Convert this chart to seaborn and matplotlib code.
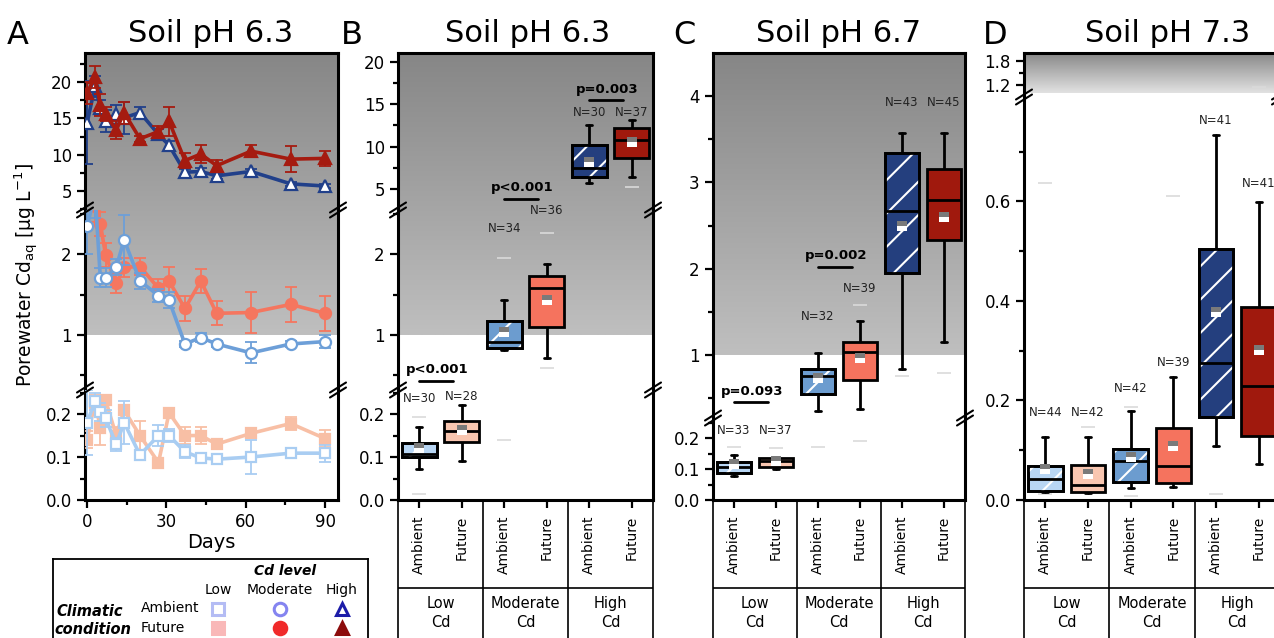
"""Porewater Cd: time series at pH 6.3 (A) and box summaries by soil pH (B-D)."""

import matplotlib

matplotlib.use("Agg")

import matplotlib.pyplot as plt
import numpy as np
import seaborn as sns
from matplotlib.colors import LinearSegmentedColormap
from matplotlib.lines import Line2D
from matplotlib.patches import PathPatch
from matplotlib.ticker import FixedLocator, FormatStrFormatter

W, H = 1274, 638
NAN = np.nan

# ---------------- panel A data (mean +- se) ----------------
days = [0, 3, 5, 7, 11, 14, 20, 27, 31, 37, 43, 49, 62, 77, 90]

high_ambient = [14.4, 19.4, 16.5, 14.6, 15.6, 15.1, 15.8, 12.8, 11.3, 7.6, 7.7, 7.1, 7.7, 6.0, 5.7]
high_ambient_se = [5.7, 1.5, 1.0, 1.5, 1.3, 2.2, 0.8, 0.7, 0.6, 0.5, 0.5, 0.4, 0.4, 0.3, 0.3]
high_future = [18.5, 20.7, 16.8, 15.6, 13.4, 15.8, 12.2, 13.2, 14.6, 9.2, 10.1, 8.5, 10.5, 9.4, 9.5]
high_future_se = [1.5, 1.5, 1.5, 1.0, 1.2, 1.5, 0.4, 0.8, 2.0, 1.0, 1.3, 0.8, 0.8, 1.8, 1.0]

mod_ambient = [2.35, 2.75, 1.71, 1.71, 1.84, 2.18, 1.67, 1.49, 1.43, 0.89, 0.97, 0.89, 0.78, 0.89, 0.92]
mod_ambient_se = [0.35, 0.3, 0.12, 0.12, 0.1, 0.31, 0.1, 0.08, 0.1, 0.04, 0.06, 0.04, 0.13, 0.04, 0.08]
mod_future = [2.9, 2.6, 2.38, 1.99, 1.64, 1.84, 1.85, 1.58, 1.67, 1.33, 1.67, 1.27, 1.28, 1.38, 1.27]
mod_future_se = [0.2, 0.2, 0.15, 0.15, 0.12, 0.12, 0.1, 0.12, 0.18, 0.15, 0.15, 0.15, 0.26, 0.22, 0.22]

low_ambient = [0.18, 0.23, 0.205, 0.19, 0.13, 0.18, 0.105, 0.15, 0.15, 0.112, 0.098, 0.095, 0.1, 0.109, 0.109]
low_ambient_se = [0.075, 0.02, 0.02, 0.02, 0.015, 0.05, 0.01, 0.025, 0.015, 0.015, 0.005, 0.005, 0.04, 0.008, 0.02]
low_future = [0.14, 0.229, 0.167, 0.232, 0.15, 0.209, 0.15, 0.087, 0.203, 0.15, 0.15, 0.13, 0.155, 0.178, 0.143]
low_future_se = [0.02, 0.015, 0.04, 0.01, 0.02, 0.01, 0.035, 0.0, 0.005, 0.02, 0.02, 0.01, 0.01, 0.015, 0.02]

# ---------------- panels B-D data (box summaries) ----------------
categories = ["Ambient", "Future"] * 3
cd_groups = ["Low\nCd", "Moderate\nCd", "High\nCd"]

B_whislo = [0.072, 0.09, 0.81, 0.72, 5.7, 6.4]
B_q1 = [0.10, 0.135, 0.84, 1.10, 6.4, 8.7]
B_med = [0.107, 0.16, 0.91, 1.58, 7.5, 10.8]
B_q3 = [0.133, 0.184, 1.17, 1.73, 10.2, 12.2]
B_whishi = [0.17, 0.22, 1.43, 1.88, 12.6, 13.1]
B_mean = [0.12, 0.163, 1.04, 1.43, 8.2, 10.5]
B_min = [0.014, NAN, 0.14, 0.59, NAN, 5.2]
B_max = [0.194, NAN, 1.96, 2.27, NAN, NAN]
B_n = [30, 28, 34, 36, 30, 37]
B_p = ["p<0.001", "p<0.001", "p=0.003"]

C_whislo = [0.077, 0.10, 0.35, 0.38, 0.84, 1.15]
C_q1 = [0.087, 0.106, 0.55, 0.71, 1.95, 2.33]
C_med = [0.106, 0.126, 0.76, 1.03, 2.67, 2.8]
C_q3 = [0.122, 0.135, 0.84, 1.15, 3.34, 3.16]
C_whishi = [0.145, 0.14, 1.02, 1.39, 3.57, 3.57]
C_mean = [0.116, 0.125, 0.73, 0.97, 2.5, 2.6]
C_min = [NAN, NAN, 0.17, 0.19, 0.76, 0.79]
C_max = [0.17, 0.168, NAN, 1.58, NAN, NAN]
C_n = [33, 37, 32, 39, 43, 45]
C_p = ["p=0.093", "p=0.002"]

D_whislo = [0.016, 0.014, 0.024, 0.026, 0.108, 0.072]
D_q1 = [0.018, 0.016, 0.036, 0.034, 0.166, 0.128]
D_med = [0.042, 0.03, 0.078, 0.068, 0.276, 0.23]
D_q3 = [0.068, 0.07, 0.102, 0.144, 0.504, 0.388]
D_whishi = [0.126, 0.126, 0.178, 0.248, 0.734, 0.598]
D_mean = [0.062, 0.052, 0.086, 0.108, 0.378, 0.302]
D_min = [0.012, NAN, 0.008, NAN, 0.012, NAN]
D_max = [0.638, 0.146, 0.186, 0.612, NAN, 1.15]
D_n = [44, 42, 42, 39, 41, 41]

box_colors = ["#b8d6f4", "#f9c6b0", "#6c9ccf", "#f5735e", "#243f7e", "#a0190d"]

sns.set_theme(
    style="ticks",
    rc={
        "axes.edgecolor": "black",
        "xtick.color": "black",
        "ytick.color": "black",
        "text.color": "black",
        "axes.labelcolor": "black",
        "hatch.linewidth": 1.5,
        "mathtext.default": "regular",
    },
)
plt.rcParams["font.family"] = ["DejaVu Sans"]

fig = plt.figure(figsize=(W / 100, H / 100), dpi=100)


def add_ax(x0, x1, top, bottom):
    return fig.add_axes([x0 / W, 1 - bottom / H, (x1 - x0) / W, (bottom - top) / H])


def ftext(px, py, s, **kw):
    fig.text(px / W, 1 - py / H, s, **kw)


def fline(xs, ys, **kw):
    fig.add_artist(Line2D([x / W for x in xs], [1 - y / H for y in ys],
                          transform=fig.transFigure, **kw))


def build_panel(x0, x1, segs, xlim, shade):
    """Stack broken-axis segments; segs rows: (lo, hi, top_px, bottom_px, major, minor, fmt)."""
    axes = []
    y_one = None
    n = len(segs)
    for i, (lo, hi, top, bottom, major, minor, fmt) in enumerate(segs):
        ax = add_ax(x0, x1, top, bottom)
        ax.set_zorder(2)
        ax.patch.set_alpha(0)
        ax.set_xlim(*xlim)
        ax.set_ylim(lo, hi)
        ax.yaxis.set_major_locator(FixedLocator(major))
        ax.yaxis.set_minor_locator(FixedLocator(minor))
        ax.yaxis.set_major_formatter(FormatStrFormatter(fmt))
        for side in ("left", "right", "top", "bottom"):
            ax.spines[side].set_linewidth(2.2)
        ax.spines["top"].set_visible(i == 0)
        ax.spines["bottom"].set_visible(i == n - 1)
        ax.tick_params(which="major", length=6, width=1.6, labelsize=12, direction="out")
        ax.tick_params(which="minor", length=3.5, width=1.6, direction="out")
        if i < n - 1:
            ax.tick_params(axis="x", which="both", bottom=False, labelbottom=False)
        if lo < 1 < hi:
            y_one = top + (hi - 1) / (hi - lo) * (bottom - top)
        axes.append(ax)

    bg = add_ax(x0, x1, segs[0][2], y_one)
    bg.set_zorder(1)
    cmap = LinearSegmentedColormap.from_list("shade", shade)
    bg.imshow(np.linspace(0, 1, 256).reshape(-1, 1), cmap=cmap, aspect="auto",
              extent=(0, 1, 0, 1), origin="upper")
    bg.axis("off")

    for seg in segs[:-1]:
        y = seg[3]
        for x in (x0, x1):
            for dy in (-2.5, 2.5):
                fline([x - 8, x + 8], [y + dy + 5, y + dy - 5], color="black", lw=1.5, zorder=10)
    return axes


def draw_series(ax, y, err, color, marker, face, ms, z):
    ax.errorbar(days, y, yerr=err, fmt="none", ecolor=color, elinewidth=1.3,
                capsize=4, capthick=1.3, zorder=z)
    sns.lineplot(x=days, y=y, ax=ax, color=color, lw=2.6, marker=marker, markersize=ms,
                 markerfacecolor=face, markeredgecolor=color, markeredgewidth=1.6,
                 estimator=None, sort=False, zorder=z + 0.5)


def draw_boxes(axes, whislo, q1, med, q3, whishi, mean, vmin, vmax):
    pos = list(range(6))
    stats = [dict(whislo=whislo[i], q1=q1[i], med=med[i], q3=q3[i], whishi=whishi[i], fliers=[])
             for i in pos]
    for ax in axes:
        ax.plot(pos, vmin, ls="none", marker="_", ms=10, mec="#dadada", mew=1.2, zorder=1.5)
        ax.plot(pos, vmax, ls="none", marker="_", ms=10, mec="#dadada", mew=1.2, zorder=1.5)
        art = ax.bxp(stats, positions=pos, widths=0.82, patch_artist=True, showfliers=False,
                     capwidths=0.14, manage_ticks=False,
                     boxprops=dict(edgecolor="black", linewidth=2),
                     whiskerprops=dict(color="black", linewidth=2),
                     capprops=dict(color="black", linewidth=2),
                     medianprops=dict(color="black", linewidth=2))
        for i, patch in enumerate(art["boxes"]):
            patch.set_facecolor(box_colors[i])
            patch.set_zorder(3)
            if i % 2 == 0:
                ax.add_patch(PathPatch(patch.get_path(), transform=patch.get_transform(),
                                       facecolor="none", edgecolor="white", lw=0,
                                       hatch="/", zorder=3.1))
                ax.add_patch(PathPatch(patch.get_path(), transform=patch.get_transform(),
                                       facecolor="none", edgecolor="black", lw=2, zorder=3.2))
        for line in art["medians"]:
            line.set_zorder(3.3)
        ax.plot(pos, mean, ls="none", marker="s", ms=6.5, fillstyle="top",
                markerfacecolor="#7a7a7a", markerfacecoloralt="white", markeredgewidth=0,
                zorder=6)


def build_table(x0, x1):
    tb = add_ax(x0, x1, 500, 700)
    tb.patch.set_alpha(0)
    tb.set_xlim(-0.5, 5.5)
    tb.set_ylim(700, 500)
    tb.set_xticks([])
    tb.set_yticks([])
    tb.spines["top"].set_visible(False)
    tb.spines["bottom"].set_visible(False)
    for side in ("left", "right"):
        tb.spines[side].set_linewidth(1.2)
    for xb in (1.5, 3.5):
        tb.axvline(xb, color="black", lw=1.2)
    tb.axhline(588, color="black", lw=1.2)
    for g, label in enumerate(cd_groups):
        tb.text(2 * g + 0.5, 613, label, ha="center", va="center", fontsize=10.5, linespacing=1.35)


def category_axis(ax):
    ax.set_xticks(range(6))
    ax.set_xticklabels(categories, rotation=90, fontsize=10)
    ax.tick_params(axis="x", which="major", length=6, pad=5)


def annotate(x0, x1, n_vals, n_y, p_texts, p_pos):
    step = (x1 - x0) / 6
    for i, (n, y) in enumerate(zip(n_vals, n_y)):
        ftext(x0 + (i + 0.5) * step, y, f"N={n}", ha="center", va="center", fontsize=8.5,
              color="#222222")
    for text, (i, y) in zip(p_texts, p_pos):
        xa = x0 + (i + 0.5) * step
        fline([xa, xa + 0.8 * step], [y, y], color="black", lw=2, zorder=10)
        ftext(xa + 0.42 * step, y - 11, text, ha="center", va="center", fontsize=9.5,
              fontweight="bold")


gray_shade = ["#868686", "#bfbfbf"]

# ---------------- panel A ----------------
A_segs = [
    (2.4, 24.0, 53, 210, [5, 10, 15, 20], [2.5, 7.5, 12.5, 17.5, 22.5], "%g"),
    (0.32, 2.55, 210, 390, [1, 2], [0.5, 1.5, 2.5], "%g"),
    (0.0, 0.256, 390, 500, [0.0, 0.1, 0.2], [0.05, 0.15, 0.25], "%.1f"),
]
a_top, a_mid, a_bot = build_panel(85, 338, A_segs, (-0.8, 94.9), gray_shade)
draw_series(a_top, high_ambient, high_ambient_se, "#21408a", "^", "white", 9, 3)
draw_series(a_top, high_future, high_future_se, "#a51b10", "^", "#a51b10", 9, 4)
draw_series(a_mid, mod_future, mod_future_se, "#f5765f", "o", "#f5765f", 8, 3)
draw_series(a_mid, mod_ambient, mod_ambient_se, "#6d9fd8", "o", "white", 8, 4)
draw_series(a_bot, low_future, low_future_se, "#f8bfa5", "s", "#f8bfa5", 7.5, 3)
draw_series(a_bot, low_ambient, low_ambient_se, "#a9cdf2", "s", "white", 7.5, 4)
for ax in (a_top, a_mid, a_bot):
    ax.set_xlabel("")
    ax.set_ylabel("")
a_bot.xaxis.set_major_locator(FixedLocator([0, 30, 60, 90]))
a_bot.xaxis.set_minor_locator(FixedLocator([15, 45, 75]))
a_bot.tick_params(axis="x", which="major", labelsize=12)
ftext(211, 543, "Days", ha="center", va="center", fontsize=14)
ftext(27, 275, "Porewater Cd$_{aq}$ [µg L$^{-1}$]", ha="center", va="center",
      rotation=90, fontsize=13.5)

# ---------------- panel B ----------------
B_segs = [
    (2.5, 21.06, 53, 210, [5, 10, 15, 20], [7.5, 12.5, 17.5], "%g"),
    (0.32, 2.55, 210, 390, [1, 2], [0.5, 1.5, 2.5], "%g"),
    (0.0, 0.256, 390, 500, [0.0, 0.1, 0.2], [0.05, 0.15, 0.25], "%.1f"),
]
b_axes = build_panel(398, 653, B_segs, (-0.5, 5.5), gray_shade)
draw_boxes(b_axes, B_whislo, B_q1, B_med, B_q3, B_whishi, B_mean, B_min, B_max)
category_axis(b_axes[-1])
build_table(398, 653)
annotate(398, 653, B_n, [399, 396, 229, 211, 113, 113], B_p, [(0, 381), (2, 199), (4, 100)])

# ---------------- panel C ----------------
C_segs = [
    (0.27, 4.5, 53, 418, [1, 2, 3, 4], [0.5, 1.5, 2.5, 3.5], "%g"),
    (0.0, 0.265, 418, 500, [0.0, 0.1, 0.2], [0.05, 0.15, 0.25], "%.1f"),
]
c_axes = build_panel(713, 965, C_segs, (-0.5, 5.5), gray_shade)
draw_boxes(c_axes, C_whislo, C_q1, C_med, C_q3, C_whishi, C_mean, C_min, C_max)
category_axis(c_axes[-1])
build_table(713, 965)
annotate(713, 965, C_n, [430, 430, 317, 289, 102, 102], C_p, [(0, 402), (2, 267)])

# ---------------- panel D ----------------
D_segs = [
    (0.9, 2.0, 53, 97, [1.2, 1.8], [1.5], "%.1f"),
    (0.0, 0.81, 97, 500, [0.0, 0.2, 0.4, 0.6], [0.1, 0.3, 0.5, 0.7], "%.1f"),
]
d_axes = build_panel(1024, 1280, D_segs, (-0.5, 5.5), ["#888888", "#e2e2e2"])
draw_boxes(d_axes, D_whislo, D_q1, D_med, D_q3, D_whishi, D_mean, D_min, D_max)
category_axis(d_axes[-1])
build_table(1024, 1280)
annotate(1024, 1280, D_n, [412, 412, 389, 362, 120, 184], [], [])

# ---------------- titles and panel letters ----------------
for letter, lx, title, tx in [("A", 18, "Soil pH 6.3", 211), ("B", 352, "Soil pH 6.3", 528),
                              ("C", 684, "Soil pH 6.7", 839), ("D", 995, "Soil pH 7.3", 1168)]:
    ftext(lx, 36, letter, ha="center", va="center", fontsize=23)
    ftext(tx, 33, title, ha="center", va="center", fontsize=22)

# ---------------- legend box ----------------
lg = add_ax(53, 368, 559, 700)
lg.set_xlim(53, 368)
lg.set_ylim(700, 559)
lg.set_xticks([])
lg.set_yticks([])
for side in lg.spines.values():
    side.set_linewidth(1.3)
lg.text(285, 571, "Cd level", ha="center", va="center", fontsize=10, fontweight="bold",
        fontstyle="italic")
for lx, lab in [(218, "Low"), (280, "Moderate"), (342, "High")]:
    lg.text(lx, 590, lab, ha="center", va="center", fontsize=10)
lg.text(90, 611, "Climatic", ha="center", va="center", fontsize=10.5, fontweight="bold",
        fontstyle="italic")
lg.text(93, 629, "condition", ha="center", va="center", fontsize=10.5, fontweight="bold",
        fontstyle="italic")
lg.text(170, 608, "Ambient", ha="center", va="center", fontsize=10)
lg.text(163, 628, "Future", ha="center", va="center", fontsize=10)
legend_marks = [
    (218, 609, "s", "white", "#b4bcf4"), (280, 609, "o", "white", "#8484f0"),
    (342, 609, "^", "white", "#1c1ca8"), (218, 628, "s", "#f9b8b8", "#f9b8b8"),
    (280, 628, "o", "#f02a2a", "#f02a2a"), (342, 628, "^", "#8c0c0c", "#8c0c0c"),
]
for mx, my, mk, fc, ec in legend_marks:
    lg.plot([mx], [my], marker=mk, ms=9, mfc=fc, mec=ec, mew=2.2, ls="none")

fig.savefig("out.png", dpi=100)
